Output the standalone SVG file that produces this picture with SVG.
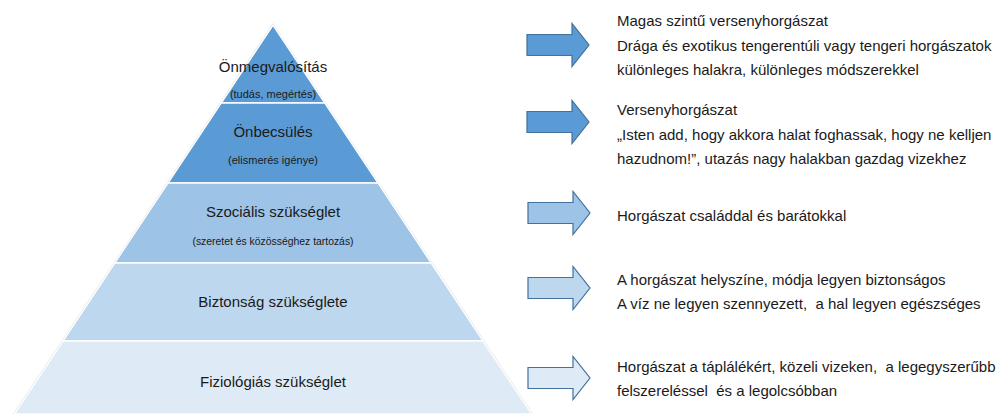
<svg xmlns="http://www.w3.org/2000/svg" width="1003" height="414" viewBox="0 0 1003 414">
<style>
.lvl{stroke:#ffffff;stroke-width:1.5}
.l1{fill:#5B9BD5}.l2{fill:#5B9BD5}.l3{fill:#9DC3E6}.l4{fill:#BDD7EE}.l5{fill:#DEEBF7}
.ttl{font-family:"Liberation Sans",Arial,sans-serif;font-size:15px;fill:#1a1a1a;text-anchor:middle}
.sub{font-family:"Liberation Sans",Arial,sans-serif;font-size:11px;fill:#1a1a1a;text-anchor:middle}
.desc{font-family:"Liberation Sans",Arial,sans-serif;font-size:15px;fill:#1a1a1a;white-space:pre}
.arr{stroke:#41719C;stroke-width:1.2;stroke-linejoin:miter}
</style>
<defs>
<path id="arrowShape" d="M0,-10.5 H45 V-21.5 L62,0 L45,21.5 V10.5 H0 Z"/>
</defs>
<rect width="1003" height="414" fill="#ffffff"/>
<g id="pyramid-outline">
<polygon points="273,25 531.7,414 14.3,414" fill="none" stroke="#cfcfcf" stroke-width="2"/>
</g>
<g id="level1">
<polygon class="lvl l1" points="273,25 324.9,103 221.1,103"/>
<text class="ttl" x="273" y="72">Önmegvalósítás</text>
<text class="sub" x="273" y="98">(tudás, megértés)</text>
</g>
<g id="level2">
<polygon class="lvl l2" points="221.1,103 324.9,103 378.1,183 167.9,183"/>
<text class="ttl" x="273" y="137">Önbecsülés</text>
<text class="sub" x="273" y="164">(elismerés igénye)</text>
</g>
<g id="level3">
<polygon class="lvl l3" points="167.9,183 378.1,183 431.3,263 114.7,263"/>
<text class="ttl" x="273" y="217">Szociális szükséglet</text>
<text class="sub" x="273" y="245" style="font-size:10.4px">(szeretet és közösséghez tartozás)</text>
</g>
<g id="level4">
<polygon class="lvl l4" points="114.7,263 431.3,263 483.1,341 62.9,341"/>
<text class="ttl" x="273" y="307">Biztonság szükséglete</text>
</g>
<g id="level5">
<polygon class="lvl l5" points="62.9,341 483.1,341 531.7,414 14.3,414"/>
<text class="ttl" x="273" y="387">Fiziológiás szükséglet</text>
</g>
<g id="connectors">
<use href="#arrowShape" class="arr" fill="#5B9BD5" transform="translate(527,45)"/>
<use href="#arrowShape" class="arr" fill="#5B9BD5" transform="translate(527,122)"/>
<use href="#arrowShape" class="arr" fill="#9DC3E6" transform="translate(528,213)"/>
<use href="#arrowShape" class="arr" fill="#BDD7EE" transform="translate(528,288)"/>
<use href="#arrowShape" class="arr" fill="#DEEBF7" transform="translate(528,378)"/>
</g>
<g id="desc1">
<text class="desc" x="617" y="26">Magas szintű versenyhorgászat</text>
<text class="desc" x="617" y="51">Drága és exotikus tengerentúli vagy tengeri horgászatok</text>
<text class="desc" x="617" y="75">különleges halakra, különleges módszerekkel</text>
</g>
<g id="desc2">
<text class="desc" x="617" y="115">Versenyhorgászat</text>
<text class="desc" x="617" y="140">„Isten add, hogy akkora halat foghassak, hogy ne kelljen</text>
<text class="desc" x="617" y="164">hazudnom!”, utazás nagy halakban gazdag vizekhez</text>
</g>
<g id="desc3">
<text class="desc" x="617" y="221">Horgászat családdal és barátokkal</text>
</g>
<g id="desc4">
<text class="desc" x="617" y="285">A horgászat helyszíne, módja legyen biztonságos</text>
<text class="desc" x="617" y="309">A víz ne legyen szennyezett,  a hal legyen egészséges</text>
</g>
<g id="desc5">
<text class="desc" x="617" y="372">Horgászat a táplálékért, közeli vizeken,  a legegyszerűbb</text>
<text class="desc" x="617" y="396">felszereléssel  és a legolcsóbban</text>
</g>
</svg>
